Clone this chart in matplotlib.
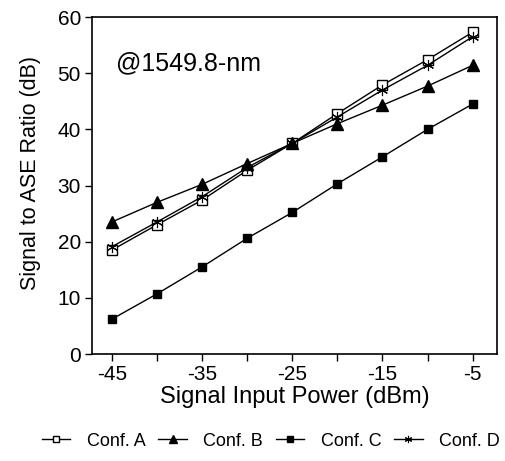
import matplotlib.pyplot as plt
from matplotlib.ticker import MultipleLocator

plt.rcParams['font.family'] = ['Liberation Sans', 'DejaVu Sans']

power = [-45, -40, -35, -30, -25, -20, -15, -10, -5]
conf_a = [18.5, 23.0, 27.4, 32.7, 37.5, 42.8, 47.9, 52.4, 57.3]
conf_b = [23.5, 27.0, 30.2, 33.9, 37.5, 41.0, 44.3, 47.7, 51.4]
conf_c = [6.2, 10.7, 15.5, 20.6, 25.2, 30.3, 35.1, 40.0, 44.5]
conf_d = [19.1, 23.5, 28.0, 33.2, 37.5, 42.2, 47.0, 51.4, 56.5]
x_labels = ['-45', '', '-35', '', '-25', '', '-15', '', '-5']

fig = plt.figure(figsize=(5.06, 4.61), dpi=100)
ax = fig.add_axes([92 / 506, 1 - 354 / 461, 405 / 506, 337 / 461])

ax.plot(power, conf_a, color='black', lw=1, marker='s', ms=7, mfc='white',
        mec='black', label='Conf. A')
ax.plot(power, conf_b, color='black', lw=1, marker='^', ms=9, mfc='black',
        label='Conf. B')
ax.plot(power, conf_c, color='black', lw=1, marker='s', ms=6, mfc='black',
        label='Conf. C')
ax.plot(power, conf_d, color='black', lw=1, marker=(6, 2, 0), ms=8, mew=0.8,
        label='Conf. D')

ax.set_xlim(-47.2, -2.3)
ax.set_ylim(0, 60)
ax.set_xticks(power)
ax.set_xticklabels(x_labels)
ax.yaxis.set_major_locator(MultipleLocator(10))
ax.tick_params(direction='out', length=5, width=1, labelsize=15, colors='black')
ax.tick_params(axis='x', pad=3)
ax.tick_params(axis='y', pad=3)
for s in ax.spines.values():
    s.set_linewidth(1.2)

ax.set_xlabel('Signal Input Power (dBm)', fontsize=17, labelpad=1)
ax.set_ylabel('Signal to ASE Ratio (dB)', fontsize=15.5)
ax.yaxis.set_label_coords(-0.125, 0.537)
ax.text(0.06, 0.863, '@1549.8-nm', transform=ax.transAxes, fontsize=18,
        va='center')

fig.legend(loc='center', bbox_to_anchor=(0.535, 1 - 441 / 461), ncol=4,
           frameon=False, fontsize=13, handlelength=1.6, handletextpad=0.9,
           columnspacing=0.7, markerscale=0.65)

fig.savefig('out.png', dpi=100)
